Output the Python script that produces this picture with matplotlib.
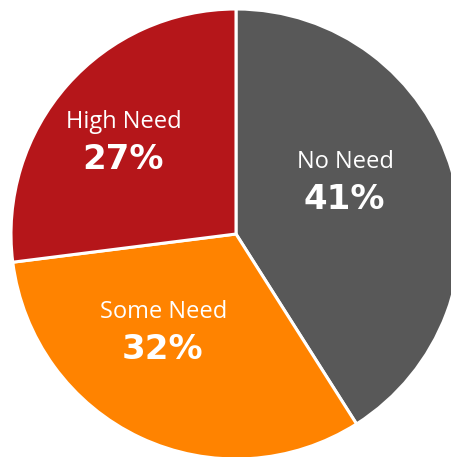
import matplotlib
matplotlib.use("Agg")
import matplotlib.pyplot as plt

categories = ["No Need", "Some Need", "High Need"]
shares = [41, 32, 27]
colors = ["#585858", "#FF8300", "#B5161A"]

# label baselines (figure pixel space, origin bottom-left)
label_xy = {
    "No Need": (345, 289),
    "Some Need": (164, 139),
    "High Need": (124, 329),
}

W, H = 452, 457
fig = plt.figure(figsize=(W / 100, H / 100), dpi=100)
ax = fig.add_axes([0, 0, 1, 1])

ax.pie(shares, colors=colors, startangle=90, counterclock=False,
       center=(236, 223), radius=225,
       wedgeprops=dict(edgecolor="white", linewidth=2.2))
ax.set_xlim(0, W)
ax.set_ylim(0, H)
ax.set_aspect("equal")
ax.axis("off")

for cat, val in zip(categories, shares):
    x, y = label_xy[cat]
    ax.text(x, y, cat, color="white", fontsize=17, ha="center", va="baseline",
            family="Open Sans")
    ax.text(x - 1, y - 41, f"{val}%", color="white", fontsize=24.5, fontweight="bold",
            ha="center", va="baseline", family="DejaVu Sans")

fig.savefig("out.png", dpi=100, facecolor="white")
